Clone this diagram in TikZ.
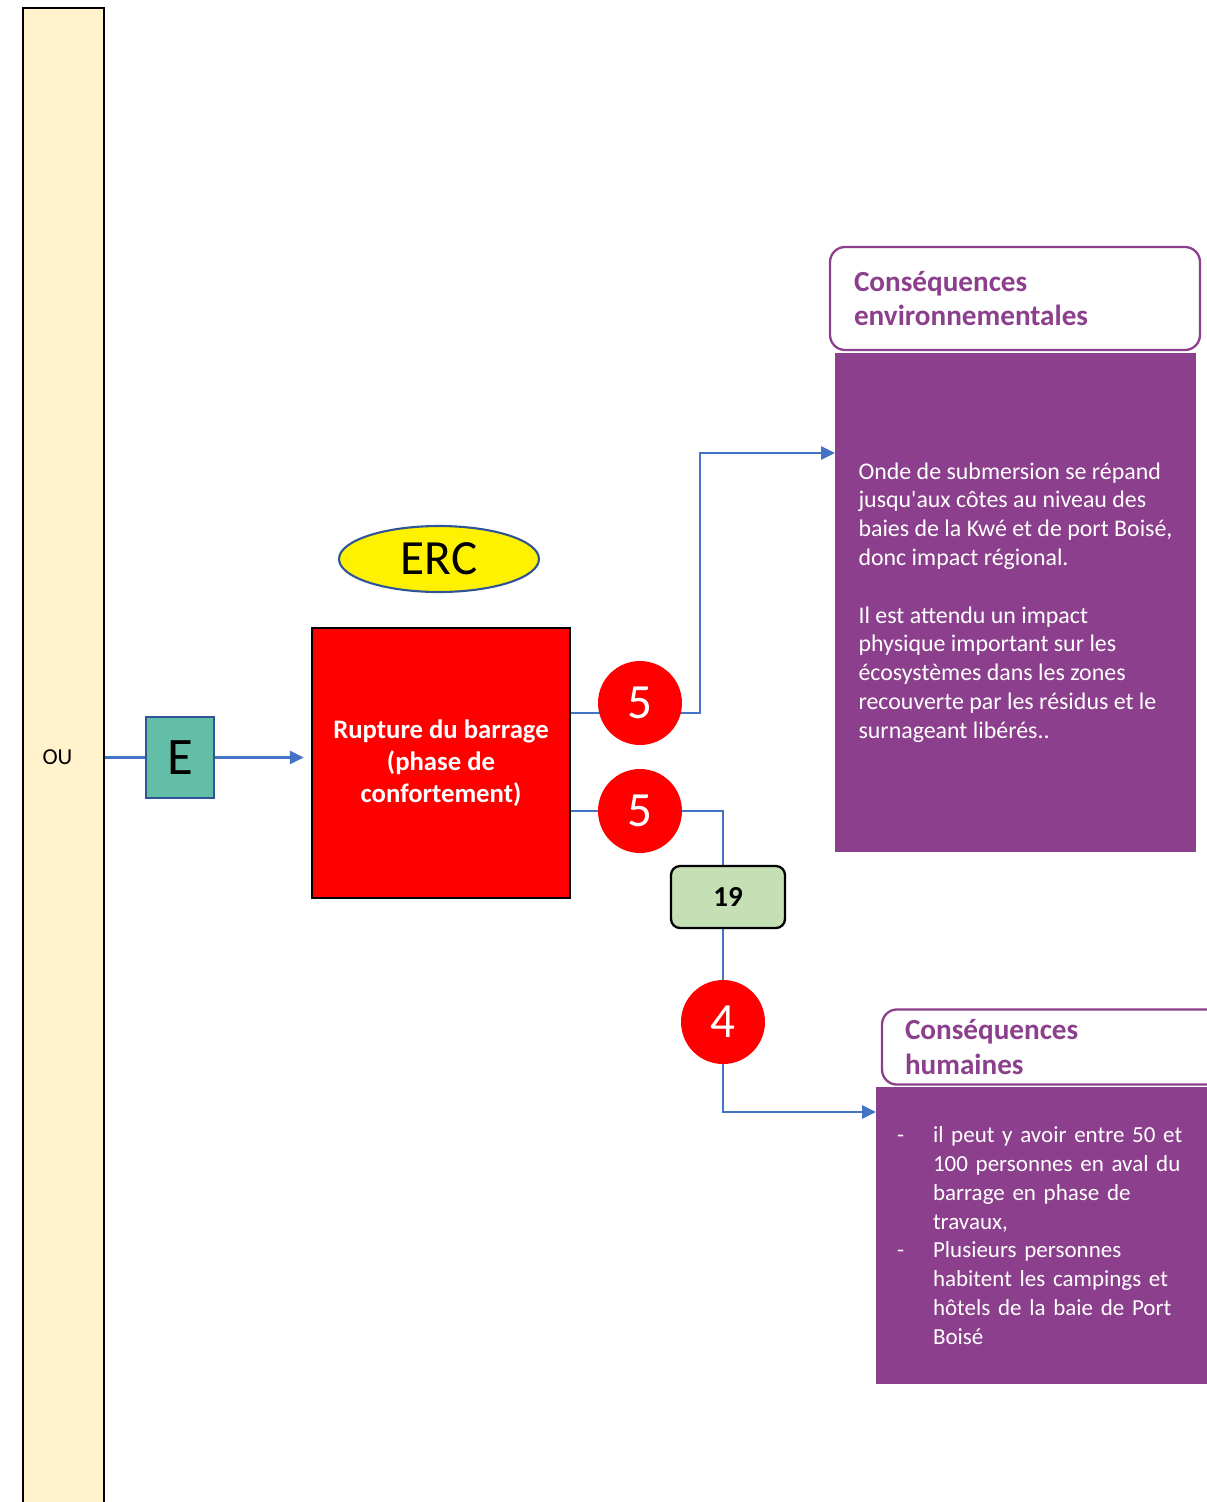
\documentclass[tikz,border=0pt]{standalone}
\usepackage{fontspec}
\setmainfont{Carlito}
\usetikzlibrary{shapes.geometric}
\usetikzlibrary{positioning}
\usetikzlibrary{arrows.meta}
\usetikzlibrary{backgrounds}
\definecolor{ouj}{RGB}{255,242,204}
\definecolor{vertE}{RGB}{99,190,168}
\definecolor{bordE}{RGB}{47,85,151}
\definecolor{bleul}{RGB}{68,114,196}
\definecolor{violetc}{RGB}{140,63,140}
\definecolor{vert19}{RGB}{197,224,180}
\tikzset{
    mynodeo/.style = {rectangle, draw=black, line width=1.5pt, fill=ouj, minimum width=1.62cm, minimum height=29.96cm, inner sep=0, font=\fontsize{13}{15}\selectfont},
    mynodee/.style = {rectangle, draw=bordE, line width=1.3pt, fill=vertE, minimum width=1.36cm, minimum height=1.62cm, inner sep=0, font=\fontsize{30}{36}\selectfont},
    mynoder/.style = {rectangle, draw=black, line width=1.3pt, fill=red, minimum width=5.16cm, minimum height=5.4cm, align=center, text=white, font=\bfseries\fontsize{15.2}{18.1}\selectfont},
    mynodey/.style = {ellipse, draw=bordE, line width=1.2pt, fill=yellow, minimum width=4cm, minimum height=1.32cm, inner sep=0, font=\fontsize{28}{34}\selectfont},
    mynodec/.style = {circle, fill=red, minimum size=1.68cm, inner sep=0, text=white, font=\fontsize{28}{34}\selectfont},
    mynodeg/.style = {rectangle, rounded corners=0.18cm, draw=black, line width=1.3pt, fill=vert19, minimum width=2.28cm, minimum height=1.24cm, font=\bfseries\fontsize{16.5}{20}\selectfont},
    mynodev/.style = {rectangle, fill=violetc, text=white, align=left, font=\fontsize{13.6}{16.4}\selectfont},
    mynodet/.style = {rectangle, rounded corners=0.3cm, draw=violetc, line width=1.3pt, fill=white, text=violetc, align=left, inner sep=0.2cm, font=\bfseries\fontsize{16.6}{19.8}\selectfont},
    edgeb/.style = {-, line width=1.5pt, bleul},
    edgea/.style = {-{Triangle[length=0.28cm,width=0.26cm]}, line width=1.5pt, bleul}
}
\newcommand{\puce}{\makebox[0.72cm][l]{-}}
\newcommand{\retrait}{\hspace*{0.72cm}}

\begin{document}
\begin{tikzpicture}[x=0.02cm,y=-0.02cm]
\useasboundingbox (0,0) rectangle (1207,1502);
\node[mynodeo] at (63.5,757) (ou) {OU\kern0.24cm};
\node[mynodee] at (180,757.5) (e) {E};
\node[mynoder] at (441,763) (rup) {Rupture du barrage\\(phase de\\confortement)};
\node[mynodey] at (439,559) (erc) {ERC};
\node[mynodec] at (640,703) (c1) {5};
\node[mynodec] at (640,811) (c2) {5};
\node[mynodeg] at (728,897) (n19) {19};
\node[mynodec] at (723,1022) (c3) {4};

\node[mynodet, minimum width=7.4cm, minimum height=2.06cm, text width=6.44cm] at (1015,298.5) (tenv) {Conséquences\\environnementales};
\node[mynodev, minimum width=7.22cm, minimum height=9.98cm] at (1015.5,602.5) (venv) {Onde de submersion se répand\\jusqu\textquotesingle aux côtes au niveau des\\baies de la Kwé et de port Boisé,\\donc impact régional.\\[16.4pt]Il est attendu un impact\\physique important sur les\\écosystèmes dans les zones\\recouverte par les résidus et le\\surnageant libérés..};
\node[mynodet, minimum width=6.96cm, minimum height=1.36cm, text width=6.04cm] at (1056,1047) (thum) {Conséquences\\humaines};
\node[mynodev, minimum width=7.08cm, minimum height=5.94cm, text width=6.24cm, inner sep=0.2cm, font=\fontsize{13.1}{16.4}\selectfont] at (1053,1235.5) (vhum) {\puce il peut y avoir entre 50 et\\\retrait 100 personnes en aval du\\\retrait barrage en phase de\\\retrait travaux,\\\puce Plusieurs personnes\\\retrait habitent les campings et\\\retrait hôtels de la baie de Port\\\retrait Boisé};

\coordinate (k1) at (700,713);
\coordinate (kenv) at (835,453);
\coordinate (khum) at (876,1112);

\begin{scope}[on background layer]
\draw[edgeb] (e.west) -- (e.west -| ou.east);
\draw[edgea, shorten >=0.14cm] (e.east) -- (e.east -| rup.west);
\draw[edgea] (rup.east |- k1) -- (k1) |- (kenv);
\draw[edgeb] (rup.east |- c2) -| (c3 |- n19.north);
\draw[edgeb] (c3 |- n19.south) -- (c3);
\draw[edgea] (c3) |- (khum);
\end{scope}

\end{tikzpicture}
\end{document}
